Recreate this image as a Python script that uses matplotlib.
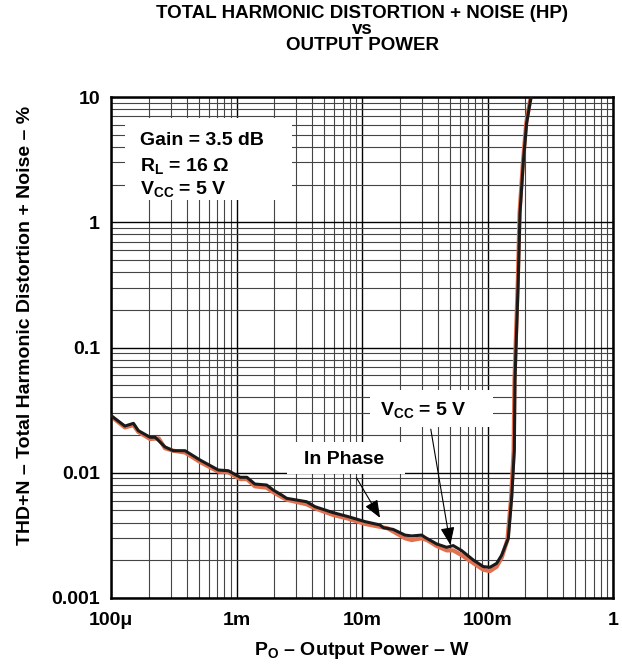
"""
THD+N vs output power (HP), log-log chart
"""

import numpy as np
import matplotlib
matplotlib.use("Agg")
import matplotlib.pyplot as plt
from matplotlib.patches import Rectangle
from matplotlib.ticker import FixedLocator, LogLocator, NullFormatter

plt.rcParams['font.family'] = ['Liberation Sans', 'DejaVu Sans']
plt.rcParams['mathtext.fontset'] = 'custom'
plt.rcParams['mathtext.rm'] = 'Liberation Sans:bold'
plt.rcParams['mathtext.bf'] = 'Liberation Sans:bold'
plt.rcParams['mathtext.it'] = 'Liberation Sans:bold'

# Data: output power in W, THD+N in %
power_black = [1.01e-4, 1.29e-4, 1.51e-4, 1.65e-4, 2.05e-4, 2.25e-4, 2.69e-4, 3.13e-4,
               3.89e-4, 5.12e-4, 7.16e-4, 8.61e-4, 1.07e-3, 1.21e-3, 1.40e-3, 1.74e-3,
               1.96e-3, 2.29e-3, 2.51e-3, 3.62e-3, 4.22e-3, 5.90e-3, 7.78e-3, 0.0106,
               0.0139, 0.0148, 0.0177, 0.0220, 0.0249, 0.0299, 0.0318, 0.0394, 0.0473,
               0.0533, 0.0622, 0.0771, 0.0927, 0.1047, 0.1183, 0.1297, 0.1466, 0.156,
               0.1637, 0.1656, 0.1758, 0.1815, 0.1927, 0.2050, 0.2224]
thd_black = [0.0284, 0.0236, 0.0248, 0.0217, 0.0192, 0.0192, 0.0161, 0.0150,
             0.0150, 0.01264, 0.01052, 0.01038, 0.0092, 0.0092, 0.00813, 0.00798,
             0.00728, 0.00664, 0.00625, 0.00587, 0.00536, 0.0048, 0.00446, 0.00407,
             0.00383, 0.00364, 0.00353, 0.00318, 0.00313, 0.00318, 0.00305, 0.0027, 0.00254,
             0.00262, 0.00239, 0.00201, 0.00178, 0.00176, 0.00189, 0.0022, 0.0030, 0.00644,
             0.0152, 0.0551, 0.346, 1.186, 2.97, 6.2, 10.0]

power_orange = [1.01e-4, 1.29e-4, 1.51e-4, 1.65e-4, 2.05e-4, 2.40e-4, 2.69e-4, 3.13e-4,
                3.89e-4, 5.12e-4, 7.16e-4, 8.61e-4, 1.07e-3, 1.21e-3, 1.40e-3, 1.74e-3,
                1.96e-3, 2.29e-3, 2.51e-3, 3.62e-3, 4.22e-3, 5.90e-3, 7.78e-3, 0.0106,
                0.0139, 0.0160, 0.0177, 0.0220, 0.0249, 0.0299, 0.0330, 0.0394, 0.0473,
                0.0533, 0.0622, 0.0771, 0.0927, 0.1047, 0.1183, 0.1297, 0.1440, 0.154,
                0.1615, 0.1640, 0.1745, 0.1800, 0.1912, 0.2035, 0.2210]
thd_orange = [0.0280, 0.0230, 0.0240, 0.0212, 0.0186, 0.0188, 0.0157, 0.0150,
              0.0145, 0.0122, 0.0102, 0.0101, 0.0089, 0.0089, 0.0078, 0.0076,
              0.0070, 0.0064, 0.0061, 0.0056, 0.0052, 0.0046, 0.0043, 0.0039,
              0.0037, 0.0036, 0.0034, 0.0030, 0.0029, 0.0030, 0.0029, 0.0026, 0.0024,
              0.0024, 0.0022, 0.0019, 0.00168, 0.00164, 0.00178, 0.0021, 0.0029, 0.0062,
              0.0150, 0.0550, 0.345, 1.18, 2.95, 6.2, 10.0]

x_ticks = [1e-4, 1e-3, 1e-2, 1e-1, 1]
x_labels = ['100μ', '1m', '10m', '100m', '1']
y_ticks = [0.001, 0.01, 0.1, 1, 10]
y_labels = ['0.001', '0.01', '0.1', '1', '10']

fs = 14

fig = plt.figure(figsize=(6.22, 6.65), dpi=100)
ax = fig.add_axes([111 / 622, 1 - 598 / 665, 502 / 622, 501 / 665])

ax.set_xscale('log')
ax.set_yscale('log')
ax.set_xlim(1e-4, 1)
ax.set_ylim(1e-3, 10)

ax.xaxis.set_major_locator(FixedLocator(x_ticks))
ax.yaxis.set_major_locator(FixedLocator(y_ticks))
ax.xaxis.set_minor_locator(LogLocator(base=10, subs=np.arange(2, 10)))
ax.yaxis.set_minor_locator(LogLocator(base=10, subs=np.arange(2, 10)))
ax.xaxis.set_minor_formatter(NullFormatter())
ax.yaxis.set_minor_formatter(NullFormatter())
ax.set_xticklabels(x_labels, fontsize=fs, fontweight='bold')
ax.set_yticklabels(y_labels, fontsize=fs, fontweight='bold')
ax.tick_params(which='both', length=0)
ax.tick_params(axis='x', pad=10)
ax.tick_params(axis='y', pad=8)

ax.set_axisbelow(True)
ax.grid(which='major', color='black', linewidth=1.0)
ax.grid(which='minor', color='#444444', linewidth=0.8)
for s in ax.spines.values():
    s.set_linewidth(1.8)

# white boxes covering the grid behind the text
ax.add_patch(Rectangle((0.028, 0.794), 0.333, 0.164, transform=ax.transAxes,
                       facecolor='white', edgecolor='none', zorder=1))
ax.add_patch(Rectangle((0.351, 0.248), 0.235, 0.063, transform=ax.transAxes,
                       facecolor='white', edgecolor='none', zorder=1))
ax.add_patch(Rectangle((0.516, 0.341), 0.245, 0.074, transform=ax.transAxes,
                       facecolor='white', edgecolor='none', zorder=1))

ax.plot(power_orange, thd_orange, color='#E2704E', linewidth=3.0, zorder=2)
ax.plot(power_black, thd_black, color='#1a1a1a', linewidth=2.2, zorder=3)

ax.text(0.058, 0.905, 'Gain = 3.5 dB', transform=ax.transAxes, fontsize=fs,
        fontweight='bold', va='baseline', zorder=4)
ax.text(0.058, 0.853, r'R$_\mathbf{L}$ = 16 Ω', transform=ax.transAxes, fontsize=fs,
        fontweight='bold', va='baseline', zorder=4)
ax.text(0.058, 0.807, r'V$_\mathbf{CC}$ = 5 V', transform=ax.transAxes, fontsize=fs,
        fontweight='bold', va='baseline', zorder=4)

arrow = dict(arrowstyle='-|>,head_length=0.9,head_width=0.36', mutation_scale=12,
             color='black', lw=0.8, shrinkA=0, shrinkB=0)
ax.annotate('', xy=(0.536, 0.160), xytext=(0.489, 0.240), xycoords='axes fraction',
            arrowprops=arrow, zorder=5)
ax.annotate('', xy=(0.676, 0.106), xytext=(0.637, 0.337), xycoords='axes fraction',
            arrowprops=arrow, zorder=5)
ax.text(0.464, 0.277, 'In Phase', transform=ax.transAxes, fontsize=fs,
        fontweight='bold', ha='center', va='center', zorder=4)
ax.text(0.622, 0.375, r'V$_\mathbf{CC}$ = 5 V', transform=ax.transAxes, fontsize=fs,
        fontweight='bold', ha='center', va='center', zorder=4)

ax.set_xlabel(r'P$_\mathbf{O}$ – Output Power – W', fontsize=fs, fontweight='bold',
              va='center')
ax.xaxis.set_label_coords(0.5, -0.104)
ax.set_ylabel('THD+N – Total Harmonic Distortion + Noise – %', fontsize=fs,
              fontweight='bold')
ax.yaxis.set_label_coords(-0.153, 0.545)

fig.text(362 / 622, 1 - 5 / 665,
         'TOTAL HARMONIC DISTORTION + NOISE (HP)\nvs\nOUTPUT POWER',
         ha='center', va='top', fontsize=13.5, fontweight='bold', linespacing=0.92)

fig.savefig('out.png', dpi=100)
